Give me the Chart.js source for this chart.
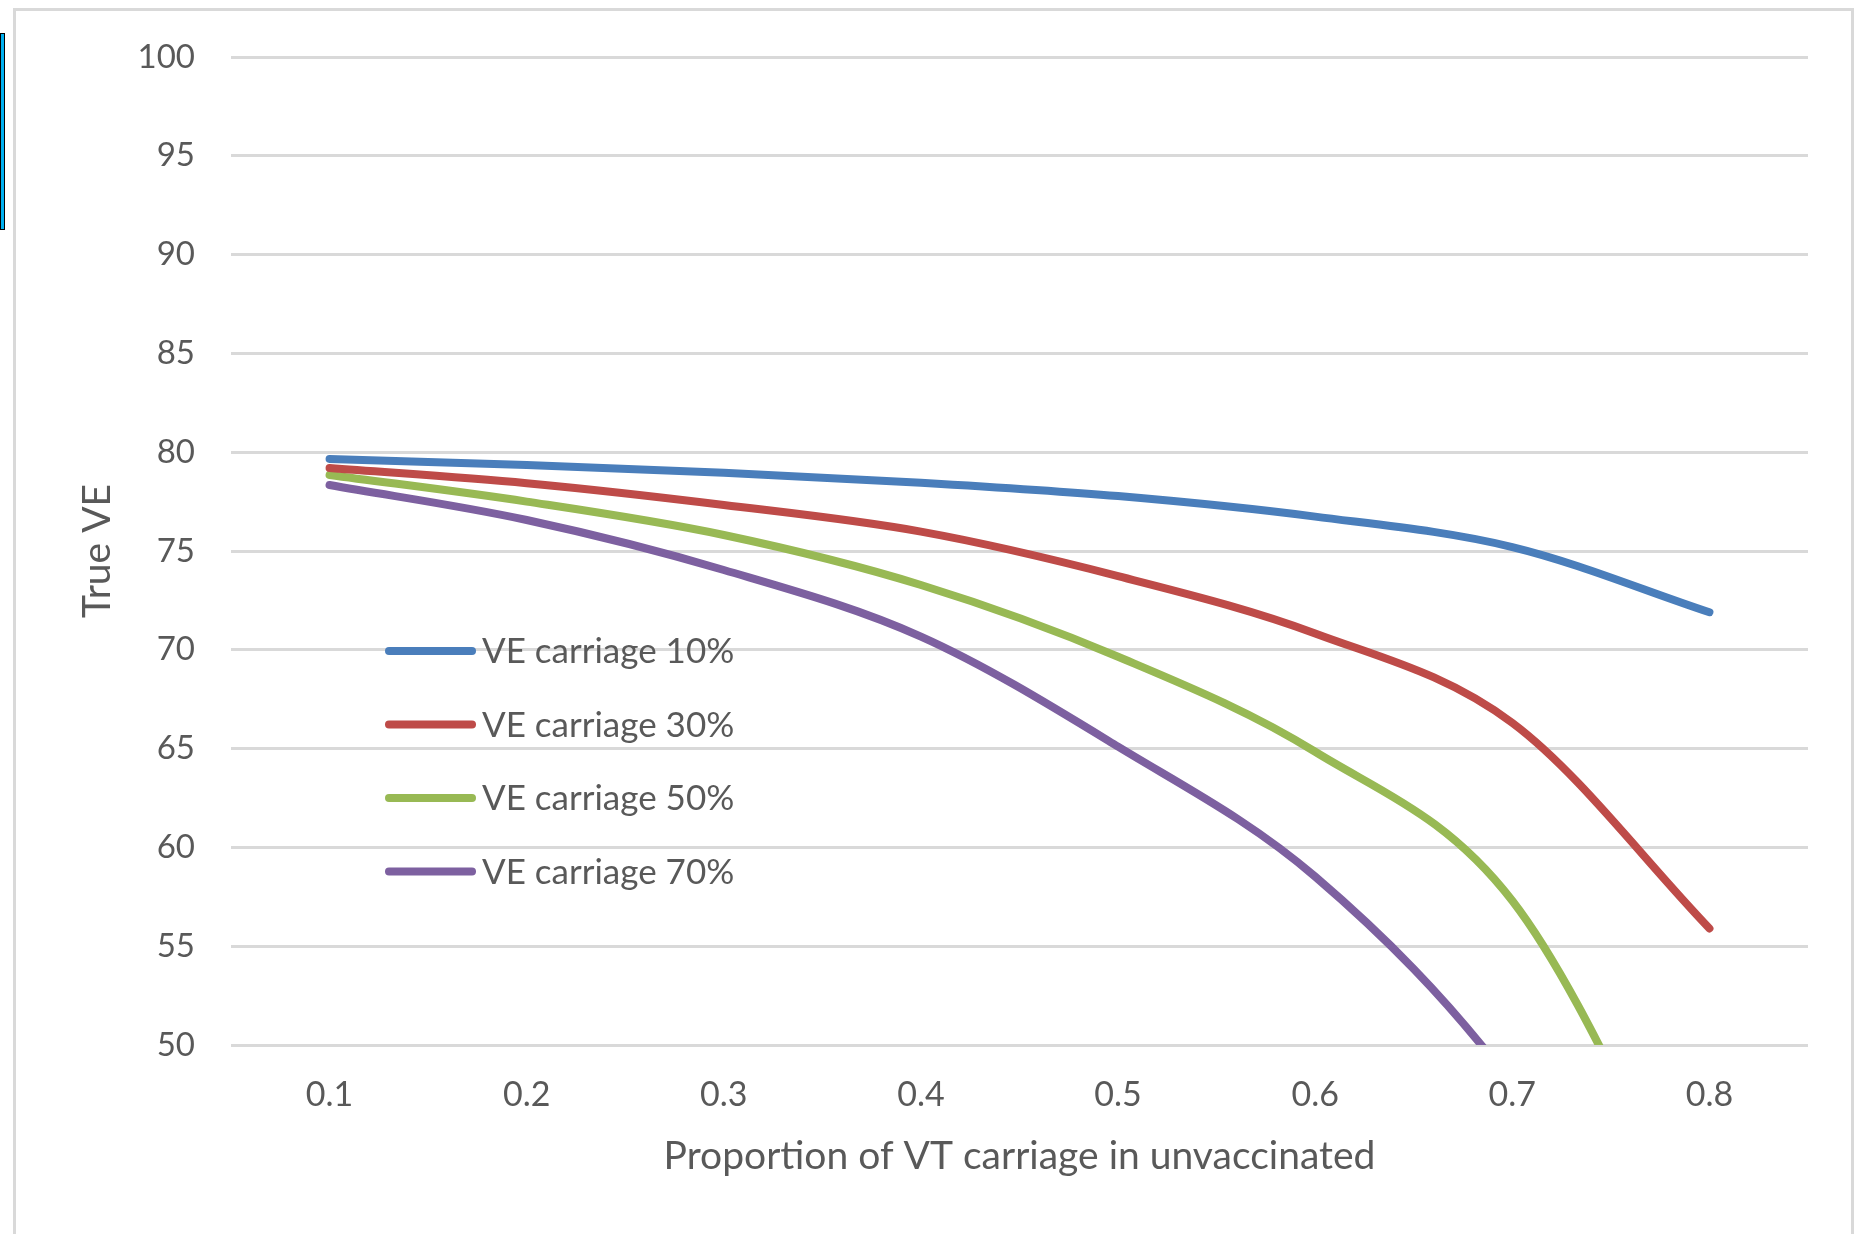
<!DOCTYPE html>
<html>
<head>
<meta charset="utf-8">
<title>True VE</title>
<script src="https://cdn.jsdelivr.net/npm/chart.js@4.4.1/dist/chart.umd.min.js"></script>
<style>
  body { margin: 0; background: #fff; overflow: hidden; }
  #frame { position: absolute; left: 13px; top: 8px; width: 1841px; height: 1300px; border: 3px solid #d9d9d9; box-sizing: border-box; }
  #mark { position: absolute; left: 0; top: 33px; width: 3px; height: 195px; background: #00b0f0; border: 1px solid #000; }
  #wrap { position: absolute; left: 0; top: 0; width: 1855px; height: 1234px; }
</style>
</head>
<body>
<div id="frame"></div>
<div id="mark"></div>
<div id="wrap"><canvas id="chart" width="1855" height="1234"></canvas></div>
<script>
// values (x = proportion of VT carriage in unvaccinated)
const xLabels = ['0.1', '0.2', '0.3', '0.4', '0.5', '0.6', '0.7', '0.8'];
const ve10 = [79.66, 79.35, 78.96, 78.46, 77.78, 76.74, 75.2, 71.9];
const ve30 = [79.2, 78.43, 77.33, 75.98, 73.73, 70.83, 66.3, 55.9];
const ve50 = [78.85, 77.5, 75.81, 73.28, 69.65, 64.84, 57.3, 39];
const ve70 = [78.34, 76.57, 74.04, 70.67, 65.1, 58.52, 48, 32];
const seriesNames = ['VE carriage 10%', 'VE carriage 30%', 'VE carriage 50%', 'VE carriage 70%'];
const seriesColors = ['#4a7ebb', '#be4b48', '#98b954', '#7d60a0'];

const textColor = '#595959';
const fontFamily = 'Lato, "Open Sans", sans-serif';

// legend drawn inside the plot, like the Excel original
const insideLegend = {
    id: 'insideLegend',
    afterDatasetsDraw(chart) {
        const ctx = chart.ctx;
        ctx.save();
        ctx.font = '35px ' + fontFamily;
        ctx.textBaseline = 'middle';
        ctx.lineCap = 'round';
        ctx.lineWidth = 8;
        chart.data.datasets.forEach((ds, i) => {
            const y = 651 + i * 73.5;
            ctx.strokeStyle = ds.borderColor;
            ctx.beginPath();
            ctx.moveTo(389, y);
            ctx.lineTo(472, y);
            ctx.stroke();
            ctx.fillStyle = textColor;
            ctx.fillText(ds.label, 482, y + 1);
        });
        ctx.restore();
    }
};

const allSeries = [ve10, ve30, ve50, ve70];

new Chart(document.getElementById('chart'), {
    type: 'line',
    data: {
        labels: xLabels,
        datasets: allSeries.map((vals, i) => ({
            label: seriesNames[i],
            data: vals,
            borderColor: seriesColors[i],
            backgroundColor: seriesColors[i],
            borderWidth: 8,
            borderCapStyle: 'round',
            pointRadius: 0,
            cubicInterpolationMode: 'monotone',
            fill: false,
            clip: 0
        }))
    },
    options: {
        responsive: false,
        animation: false,
        devicePixelRatio: 1,
        layout: { padding: { top: 57, right: 47, left: 0, bottom: 0 } },
        plugins: {
            legend: { display: false },
            tooltip: { enabled: false }
        },
        scales: {
            x: {
                offset: true,
                afterFit: s => { s.height = 189; },
                grid: { display: false },
                border: { display: false },
                ticks: {
                    color: textColor,
                    padding: 22,
                    font: { family: fontFamily, size: 34 }
                },
                title: {
                    display: true,
                    text: 'Proportion of VT carriage in unvaccinated',
                    color: textColor,
                    font: { family: fontFamily, size: 39 },
                    padding: { top: 0, bottom: 54 }
                }
            },
            y: {
                min: 50,
                max: 100,
                afterFit: s => { s.width = 231; },
                grid: { color: '#d9d9d9', lineWidth: 3, drawTicks: false },
                border: { display: false },
                ticks: {
                    stepSize: 5,
                    color: textColor,
                    padding: 36,
                    font: { family: fontFamily, size: 33 }
                },
                title: {
                    display: true,
                    text: 'True VE',
                    color: textColor,
                    font: { family: fontFamily, size: 39 },
                    padding: { top: 74, bottom: 0 }
                }
            }
        }
    },
    plugins: [insideLegend]
});
</script>
</body>
</html>
